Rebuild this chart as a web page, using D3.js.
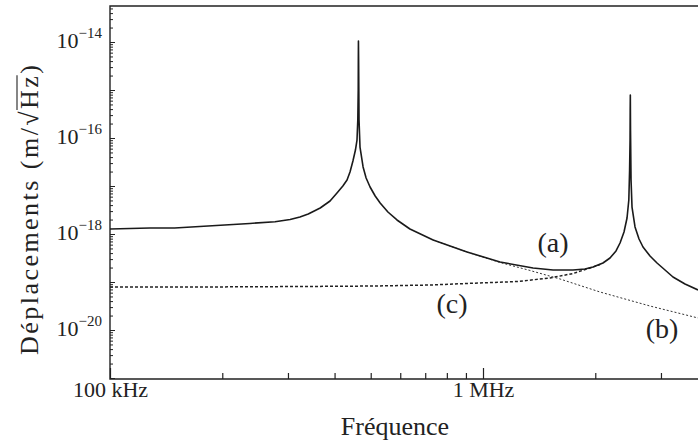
<!DOCTYPE html>
<html><head><meta charset="utf-8">
<script src="https://cdn.jsdelivr.net/npm/d3@7"></script>
<style>
body{margin:0;background:#fff}
</style>
</head><body><svg id="c" width="698" height="446"></svg>
<script>
// ---- data ----
const freqA = [1.00e5,1.28e5,1.49e5,1.74e5,2.03e5,2.37e5,2.77e5,3.04e5,3.23e5,3.40e5,3.66e5,3.89e5,4.06e5,4.21e5,4.32e5,4.40e5,4.48e5,4.55e5,4.594e5,4.617e5,4.629e5,4.632e5,4.635e5,
  4.640e5,4.652e5,4.68e5,4.77e5,4.86e5,4.98e5,5.14e5,5.30e5,5.56e5,5.88e5,6.37e5,7.35e5,9.06e5,1.111e6,1.362e6,1.541e6,1.743e6,1.877e6,1.972e6,2.097e6,2.190e6,2.273e6,2.330e6,2.388e6,2.433e6,2.460e6,2.472e6,2.479e6,2.481e6,2.483e6,
  2.486e6,2.494e6,2.509e6,2.556e6,2.620e6,2.685e6,2.804e6,2.928e6,3.076e6,3.231e6,3.480e6,3.771e6];
const dispA = [1.27e-18,1.33e-18,1.33e-18,1.43e-18,1.54e-18,1.66e-18,1.80e-18,2.00e-18,2.26e-18,2.61e-18,3.48e-18,4.87e-18,7.15e-18,1.00e-17,1.33e-17,1.96e-17,3.32e-17,5.62e-17,9.08e-17,2.37e-16,1.0e-15,4.2e-15,1.05e-14,
  4.2e-15,2.37e-16,6.49e-17,2.49e-17,1.47e-17,9.53e-18,6.19e-18,4.43e-18,2.87e-18,1.96e-18,1.27e-18,7.50e-19,4.22e-19,2.61e-19,1.96e-19,1.78e-19,1.78e-19,1.87e-19,2.05e-19,2.49e-19,3.16e-19,4.43e-19,6.49e-19,1.10e-18,2.15e-18,5.11e-18,2.15e-17,9.08e-17,3.83e-16,7.87e-16,
  1.47e-16,1.33e-17,3.65e-18,1.40e-18,7.87e-19,5.36e-19,3.48e-19,2.49e-19,1.78e-19,1.27e-19,9.08e-20,6.81e-20];
const freqB = [7.35e5,9.06e5,1.111e6,1.336e6,1.609e6,2.059e6,2.804e6,3.771e6];
const dispB = [7.50e-19,4.22e-19,2.55e-19,1.74e-19,1.155e-19,6.19e-20,3.16e-20,1.78e-20];
const freqC = [1.00e5,1.743e5,3.232e5,5.135e5,7.21e5,9.06e5,1.234e6,1.512e6,1.743e6,1.936e6,2.059e6];
const dispC = [7.87e-20,7.87e-20,8.05e-20,8.25e-20,8.66e-20,9.31e-20,1.023e-19,1.211e-19,1.503e-19,1.96e-19,2.32e-19];
const xTickValues = [1e5,1e6];
const xTickLabels = ["100 kHz","1 MHz"];
const xMinorTicks = [2e5,3e5,4e5,5e5,6e5,7e5,8e5,9e5,2e6,3e6];
const yTickExps = [-14,-16,-18,-20];
const curveNames = ["(a)","(b)","(c)"];
const xTitle = "Fréquence";
const yTitleMain = "Déplacements (m/";

(function(){
const FONT = "'Liberation Serif', 'DejaVu Serif', serif";
// ---- layout ----
const W = 698, mLeft = 110, mTop = 6, mBottom = 379;
const x = d3.scaleLog().domain([1e5,1e6]).range([110,483]);
const y = d3.scaleLog().domain([1e-20,1e-14]).range([330,42]);
const svg = d3.select("#c").attr("font-family",FONT);

svg.append("defs").append("clipPath").attr("id","clip")
  .append("rect").attr("x",mLeft).attr("y",mTop).attr("width",W-mLeft+10).attr("height",mBottom-mTop);

// x axis ticks (inward)
const gx = svg.append("g").attr("transform",`translate(0,${mBottom})`);
gx.append("g").call(d3.axisBottom(x).tickValues(xMinorTicks).tickSize(-6).tickFormat(""));
gx.append("g").call(d3.axisBottom(x).tickValues(xTickValues).tickSize(-11).tickPadding(2)
  .tickFormat((d,i)=>xTickLabels[i]));
gx.selectAll(".domain").remove();
gx.selectAll("line").attr("stroke","#222").attr("stroke-width",1.2);
gx.selectAll("g").attr("font-family",FONT).attr("font-size",null);
gx.selectAll("text").attr("font-size",22).attr("fill","#222").attr("font-family",FONT);

// y axis ticks (inward)
const yMin = y.invert(mBottom), yMax = y.invert(mTop);
const yMinor = [], yMajor = [];
for (let e=-22;e<=-13;e++){ for(let k=1;k<=9;k++){ const v=k*Math.pow(10,e); if(v>=yMin && v<=yMax){ (k===1?yMajor:yMinor).push(v);} } }
const gy = svg.append("g").attr("transform",`translate(${mLeft},0)`);
gy.append("g").call(d3.axisLeft(y).tickValues(yMinor).tickSize(-3).tickFormat(""));
gy.append("g").call(d3.axisLeft(y).tickValues(yMajor).tickSize(-5).tickFormat(""));
gy.selectAll(".domain").remove();
gy.selectAll("line").attr("stroke","#222").attr("stroke-width",1);

// y tick labels 10^n
yTickExps.forEach(e=>{
  const t = svg.append("text").attr("x",102).attr("y",y(Math.pow(10,e))+6).attr("text-anchor","end")
    .attr("font-size",22).attr("fill","#222").attr("font-family",FONT);
  t.append("tspan").text("10");
  t.append("tspan").attr("font-size",15).attr("dy",-10).text("\u2212"+Math.abs(e));
});

// frame
svg.append("path").attr("d",`M${W+10},${mTop}H${mLeft}V${mBottom}H${W+10}`)
  .attr("fill","none").attr("stroke","#222").attr("stroke-width",1.4);

// curves
const line = d3.line().x(d=>x(d[0])).y(d=>y(d[1]));
const plot = svg.append("g").attr("clip-path","url(#clip)");
plot.append("path").datum(d3.zip(freqC,dispC)).attr("d",line)
  .attr("fill","none").attr("stroke","#222").attr("stroke-width",1.5).attr("stroke-dasharray","3,2");
plot.append("path").datum(d3.zip(freqB,dispB)).attr("d",line)
  .attr("fill","none").attr("stroke","#333").attr("stroke-width",1).attr("stroke-dasharray","2,2");
plot.append("path").datum(d3.zip(freqA,dispA)).attr("d",line)
  .attr("fill","none").attr("stroke","#1a1a1a").attr("stroke-width",1.6).attr("stroke-linejoin","round");

// curve labels (data coordinates)
const labelPos = [[1.54e6,6.5e-19],[3.02e6,1.08e-20],[8.26e5,3.6e-20]];
curveNames.forEach((n,i)=>{
  svg.append("text").attr("x",x(labelPos[i][0])).attr("y",y(labelPos[i][1]))
    .attr("text-anchor","middle").attr("dominant-baseline","central").attr("font-size",28)
    .attr("fill","#222").attr("font-family",FONT).text(n);
});

// x title
svg.append("text").attr("x",395).attr("y",435).attr("text-anchor","middle").attr("font-size",26)
  .attr("fill","#222").attr("font-family",FONT).text(xTitle);

// y title with radical
const gt = svg.append("g").attr("transform","translate(38,210) rotate(-90)");
const yt = gt.append("text").attr("text-anchor","middle").attr("font-size",26)
  .attr("textLength",290).attr("lengthAdjust","spacing")
  .attr("fill","#222").attr("font-family",FONT);
yt.append("tspan").text(yTitleMain);
yt.append("tspan").text("\u221A");
yt.append("tspan").text("Hz");
yt.append("tspan").text(")");
const node = yt.node();
const full = yTitleMain + "\u221AHz)";
const iH = full.indexOf("Hz");
const x0 = node.getStartPositionOfChar(iH).x - 1;
const x1 = node.getEndPositionOfChar(iH+1).x + 1;
gt.append("line").attr("x1",x0).attr("x2",x1).attr("y1",-21).attr("y2",-21).attr("stroke","#222").attr("stroke-width",1.1);
})();
</script>
</body></html>
